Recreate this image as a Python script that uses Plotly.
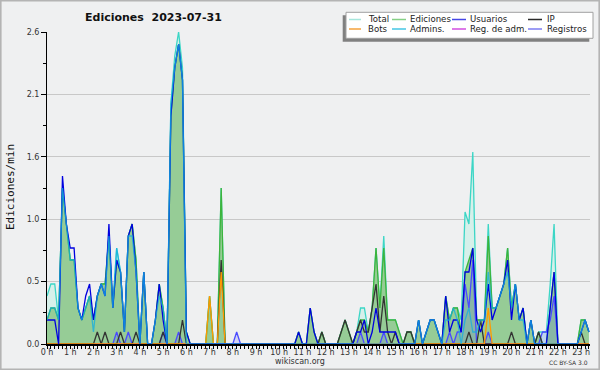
import plotly.graph_objects as go

# ---------------- data (10-minute bins, edits per minute) ----------------
minutes = list(range(0, 1410, 10))  # 00:00 .. 23:20

total = [
    0.4, 0.5, 0.5, 0.2, 1.3, 1.0,   # 0h
    0.7, 0.7, 0.3, 0.2, 0.3, 0.4,   # 1h
    0.2, 0.4, 0.5, 0.5, 0.9, 0.3,   # 2h
    0.8, 0.6, 0.1, 0.9, 1.0, 0.7,   # 3h
    0.0, 0.6, 0.0, 0.0, 0.2, 0.5,   # 4h
    0.3, 0.0, 2.0, 2.4, 2.6, 2.3,   # 5h
    0.1, 0.0, 0.0, 0.0, 0.0, 0.0,   # 6h
    0.4, 0.0, 0.0, 1.3, 0.0, 0.0,   # 7h
    0.0, 0.0, 0.0, 0.0, 0.0, 0.0,   # 8h
    0.0, 0.0, 0.0, 0.0, 0.0, 0.0,   # 9h
    0.0, 0.0, 0.0, 0.0, 0.0, 0.1,   # 10h
    0.0, 0.0, 0.3, 0.1, 0.0, 0.1,   # 11h
    0.0, 0.0, 0.0, 0.0, 0.1, 0.2,   # 12h
    0.1, 0.0, 0.1, 0.3, 0.3, 0.1,   # 13h
    0.3, 0.8, 0.3, 0.9, 0.2, 0.2,   # 14h
    0.2, 0.1, 0.0, 0.1, 0.1, 0.0,   # 15h
    0.2, 0.0, 0.1, 0.2, 0.2, 0.1,   # 16h
    0.0, 0.4, 0.2, 0.3, 0.3, 0.2,   # 17h
    1.1, 1.0, 1.6, 0.2, 0.2, 0.2,   # 18h
    1.0, 0.3, 0.3, 0.4, 0.5, 0.8,   # 19h
    0.3, 0.5, 0.2, 0.3, 0.0, 0.2,   # 20h
    0.0, 0.1, 0.1, 0.1, 0.5, 1.0,   # 21h
    0.0, 0.0, 0.0, 0.0, 0.0, 0.0,   # 22h
    0.2, 0.2, 0.1,                  # 23h
]

ediciones = [
    0.2, 0.3, 0.3, 0.2, 1.3, 1.0,
    0.7, 0.7, 0.3, 0.2, 0.3, 0.4,
    0.2, 0.4, 0.5, 0.5, 0.9, 0.3,
    0.7, 0.6, 0.1, 0.9, 1.0, 0.7,
    0.0, 0.6, 0.0, 0.0, 0.2, 0.5,
    0.3, 0.0, 1.9, 2.3, 2.5, 2.2,
    0.1, 0.0, 0.0, 0.0, 0.0, 0.0,
    0.4, 0.0, 0.0, 1.3, 0.0, 0.0,
    0.0, 0.0, 0.0, 0.0, 0.0, 0.0,
    0.0, 0.0, 0.0, 0.0, 0.0, 0.0,
    0.0, 0.0, 0.0, 0.0, 0.0, 0.1,
    0.0, 0.0, 0.3, 0.1, 0.0, 0.1,
    0.0, 0.0, 0.0, 0.0, 0.1, 0.2,
    0.1, 0.0, 0.1, 0.2, 0.2, 0.1,
    0.3, 0.8, 0.3, 0.8, 0.2, 0.2,
    0.2, 0.1, 0.0, 0.1, 0.1, 0.0,
    0.2, 0.0, 0.1, 0.2, 0.2, 0.1,
    0.0, 0.4, 0.2, 0.3, 0.3, 0.1,
    0.6, 0.7, 0.8, 0.2, 0.2, 0.2,
    0.9, 0.3, 0.3, 0.4, 0.5, 0.8,
    0.3, 0.5, 0.2, 0.3, 0.0, 0.2,
    0.0, 0.1, 0.0, 0.0, 0.3, 0.6,
    0.0, 0.0, 0.0, 0.0, 0.0, 0.0,
    0.2, 0.2, 0.1,
]

usuarios = [
    0.2, 0.2, 0.2, 0.0, 1.4, 1.0,
    0.8, 0.8, 0.3, 0.2, 0.4, 0.5,
    0.2, 0.4, 0.5, 0.4, 1.0, 0.3,
    0.7, 0.6, 0.1, 0.9, 1.0, 0.6,
    0.0, 0.6, 0.0, 0.0, 0.2, 0.5,
    0.2, 0.0, 1.9, 2.3, 2.5, 2.2,
    0.1, 0.0, 0.0, 0.0, 0.0, 0.0,
    0.0, 0.0, 0.0, 0.0, 0.0, 0.0,
    0.0, 0.0, 0.0, 0.0, 0.0, 0.0,
    0.0, 0.0, 0.0, 0.0, 0.0, 0.0,
    0.0, 0.0, 0.0, 0.0, 0.0, 0.1,
    0.0, 0.0, 0.3, 0.1, 0.0, 0.0,
    0.0, 0.0, 0.0, 0.0, 0.0, 0.0,
    0.0, 0.0, 0.1, 0.1, 0.2, 0.0,
    0.1, 0.3, 0.1, 0.1, 0.1, 0.1,
    0.1, 0.0, 0.0, 0.0, 0.0, 0.0,
    0.2, 0.0, 0.1, 0.2, 0.2, 0.1,
    0.0, 0.4, 0.1, 0.2, 0.2, 0.1,
    0.6, 0.6, 0.8, 0.2, 0.1, 0.2,
    0.5, 0.2, 0.3, 0.4, 0.5, 0.7,
    0.2, 0.5, 0.2, 0.3, 0.0, 0.2,
    0.0, 0.0, 0.0, 0.0, 0.3, 0.6,
    0.0, 0.0, 0.0, 0.0, 0.0, 0.0,
    0.1, 0.2, 0.1,
]

ip = [
    0.0, 0.0, 0.0, 0.0, 0.0, 0.0,
    0.0, 0.0, 0.0, 0.0, 0.0, 0.0,
    0.0, 0.1, 0.0, 0.1, 0.0, 0.0,
    0.0, 0.1, 0.0, 0.0, 0.0, 0.1,
    0.0, 0.0, 0.0, 0.0, 0.0, 0.0,
    0.1, 0.0, 0.0, 0.0, 0.0, 0.2,
    0.0, 0.0, 0.0, 0.0, 0.0, 0.0,
    0.0, 0.0, 0.0, 0.7, 0.0, 0.0,
    0.0, 0.0, 0.0, 0.0, 0.0, 0.0,
    0.0, 0.0, 0.0, 0.0, 0.0, 0.0,
    0.0, 0.0, 0.0, 0.0, 0.0, 0.0,
    0.0, 0.0, 0.0, 0.0, 0.0, 0.1,
    0.0, 0.0, 0.0, 0.0, 0.1, 0.2,
    0.1, 0.0, 0.1, 0.2, 0.1, 0.1,
    0.3, 0.5, 0.1, 0.4, 0.1, 0.0,
    0.1, 0.0, 0.0, 0.1, 0.1, 0.0,
    0.0, 0.0, 0.0, 0.0, 0.0, 0.0,
    0.0, 0.0, 0.0, 0.0, 0.0, 0.0,
    0.0, 0.1, 0.0, 0.0, 0.2, 0.0,
    0.0, 0.0, 0.0, 0.0, 0.0, 0.0,
    0.1, 0.0, 0.0, 0.0, 0.0, 0.0,
    0.0, 0.1, 0.0, 0.0, 0.0, 0.0,
    0.0, 0.0, 0.0, 0.0, 0.0, 0.0,
    0.1, 0.0, 0.0,
]

bots = [
    0.0, 0.0, 0.0, 0.0, 0.0, 0.0,
    0.0, 0.0, 0.0, 0.0, 0.0, 0.0,
    0.0, 0.0, 0.0, 0.0, 0.0, 0.0,
    0.0, 0.0, 0.0, 0.0, 0.0, 0.0,
    0.0, 0.0, 0.0, 0.0, 0.0, 0.0,
    0.0, 0.0, 0.0, 0.0, 0.0, 0.0,
    0.0, 0.0, 0.0, 0.0, 0.0, 0.0,
    0.4, 0.0, 0.0, 0.6, 0.0, 0.0,
    0.0, 0.0, 0.0, 0.0, 0.0, 0.0,
    0.0, 0.0, 0.0, 0.0, 0.0, 0.0,
    0.0, 0.0, 0.0, 0.0, 0.0, 0.0,
    0.0, 0.0, 0.0, 0.0, 0.0, 0.0,
    0.0, 0.0, 0.0, 0.0, 0.0, 0.0,
    0.0, 0.0, 0.0, 0.0, 0.0, 0.0,
    0.0, 0.0, 0.0, 0.0, 0.0, 0.0,
    0.0, 0.0, 0.0, 0.0, 0.0, 0.0,
    0.0, 0.0, 0.0, 0.0, 0.0, 0.0,
    0.0, 0.0, 0.0, 0.0, 0.0, 0.0,
    0.0, 0.0, 0.0, 0.0, 0.0, 0.0,
    0.3, 0.0, 0.0, 0.0, 0.0, 0.0,
    0.0, 0.0, 0.0, 0.0, 0.0, 0.0,
    0.0, 0.0, 0.0, 0.0, 0.0, 0.0,
    0.0, 0.0, 0.0, 0.0, 0.0, 0.0,
    0.0, 0.0, 0.0,
]

admins = [
    0.2, 0.3, 0.3, 0.2, 1.3, 1.0,
    0.7, 0.7, 0.3, 0.2, 0.3, 0.4,
    0.1, 0.4, 0.5, 0.4, 0.9, 0.3,
    0.8, 0.6, 0.1, 0.9, 0.9, 0.6,
    0.0, 0.6, 0.0, 0.0, 0.2, 0.4,
    0.3, 0.0, 2.0, 2.3, 2.5, 2.2,
    0.0, 0.0, 0.0, 0.0, 0.0, 0.0,
    0.0, 0.0, 0.0, 0.0, 0.0, 0.0,
    0.0, 0.0, 0.0, 0.0, 0.0, 0.0,
    0.0, 0.0, 0.0, 0.0, 0.0, 0.0,
    0.0, 0.0, 0.0, 0.0, 0.0, 0.0,
    0.0, 0.0, 0.0, 0.0, 0.0, 0.0,
    0.0, 0.0, 0.0, 0.0, 0.0, 0.0,
    0.0, 0.0, 0.0, 0.0, 0.0, 0.0,
    0.0, 0.0, 0.0, 0.0, 0.0, 0.0,
    0.0, 0.0, 0.0, 0.0, 0.0, 0.0,
    0.2, 0.0, 0.1, 0.2, 0.2, 0.1,
    0.0, 0.2, 0.2, 0.3, 0.2, 0.0,
    0.2, 0.3, 0.1, 0.1, 0.2, 0.2,
    0.6, 0.3, 0.3, 0.4, 0.5, 0.6,
    0.3, 0.5, 0.2, 0.2, 0.0, 0.2,
    0.0, 0.0, 0.0, 0.0, 0.0, 0.0,
    0.0, 0.0, 0.0, 0.0, 0.0, 0.0,
    0.1, 0.2, 0.1,
]

reg_adm = [0.0] * 141

registros = [
    0.0, 0.0, 0.0, 0.0, 0.0, 0.0,
    0.0, 0.0, 0.0, 0.0, 0.0, 0.0,
    0.0, 0.0, 0.0, 0.0, 0.0, 0.0,
    0.1, 0.0, 0.0, 0.1, 0.0, 0.0,
    0.0, 0.0, 0.0, 0.0, 0.0, 0.0,
    0.1, 0.0, 0.0, 0.0, 0.1, 0.0,
    0.0, 0.0, 0.0, 0.0, 0.0, 0.0,
    0.0, 0.0, 0.0, 0.0, 0.0, 0.0,
    0.0, 0.1, 0.0, 0.0, 0.0, 0.0,
    0.0, 0.0, 0.0, 0.0, 0.0, 0.0,
    0.0, 0.0, 0.0, 0.0, 0.0, 0.0,
    0.0, 0.0, 0.0, 0.0, 0.0, 0.0,
    0.0, 0.0, 0.0, 0.0, 0.0, 0.0,
    0.0, 0.0, 0.0, 0.1, 0.0, 0.0,
    0.0, 0.0, 0.0, 0.1, 0.0, 0.0,
    0.0, 0.0, 0.0, 0.0, 0.0, 0.0,
    0.0, 0.0, 0.0, 0.0, 0.0, 0.0,
    0.0, 0.0, 0.1, 0.0, 0.1, 0.1,
    0.5, 0.3, 0.7, 0.0, 0.0, 0.0,
    0.1, 0.0, 0.0, 0.0, 0.0, 0.0,
    0.0, 0.0, 0.0, 0.0, 0.0, 0.0,
    0.0, 0.0, 0.1, 0.1, 0.2, 0.4,
    0.0, 0.0, 0.0, 0.0, 0.0, 0.0,
    0.0, 0.0, 0.0,
]

hour_ticks = list(range(24))
hour_labels = [f"{h} h" for h in hour_ticks]
y_ticks = [0, 0.52, 1.04, 1.56, 2.08, 2.6]
y_labels = ["0.0", "0.5", "1.0", "1.6", "2.1", "2.6"]

legend_items = [
    ("Total", "#a6e6dc"), ("Ediciones", "#86d086"), ("Usuarios", "#4646e6"), ("IP", "#2a2a2a"),
    ("Bots", "#f4a23c"), ("Admins.", "#44c6e4"), ("Reg. de adm.", "#d24ee0"), ("Registros", "#7c7cf2"),
]

# ---------------- figure ----------------
x = [m / 60 for m in minutes]
W, H = 600, 370
PL, PR, PT, PB = 47, 590, 32, 344


def px(v):
    return (v - PL) / (PR - PL)


def py(v):
    return (PB - v) / (PB - PT)


fig = go.Figure()


def add(y, color, width=1.3, fill=None, fillcolor=None, opacity=1.0):
    fig.add_trace(go.Scatter(
        x=x, y=y, mode="lines", line=dict(color=color, width=width),
        fill=fill, fillcolor=fillcolor, opacity=opacity,
        hoverinfo="skip", showlegend=False))


add(total, "#3cd6c6", fill="tozeroy", fillcolor="#d6f0ea")
add(ediciones, "#3cb43c", fill="tozeroy", fillcolor="#96cc96")
add(registros, "#4a4aff", fill="tozeroy", fillcolor="rgba(70,70,255,0.16)")
add(reg_adm, "#d040d0")
add(ip, "#333333")
add(bots, "#ff9900")
add(usuarios, "#0000e0")
add(admins, "#12aee2", opacity=0.75)

fig.update_layout(
    width=W, height=H,
    margin=dict(l=PL, r=W - PR, t=PT, b=H - PB),
    paper_bgcolor="#eff0f1", plot_bgcolor="#eff0f1",
    showlegend=False,
    xaxis=dict(
        range=[0, 23.38], tickmode="array", tickvals=hour_ticks, ticktext=hour_labels,
        ticks="outside", ticklen=3, tickcolor="black", showline=True, linecolor="black",
        linewidth=1.5, showgrid=False, zeroline=False, ticklabelstandoff=-3,
        tickfont=dict(family="DejaVu Sans", size=8, color="#333333"),
        minor=dict(tickmode="linear", tick0=0, dtick=1 / 6, ticks="outside", ticklen=3,
                   tickcolor="black", showgrid=False),
        fixedrange=True,
    ),
    yaxis=dict(
        range=[0, 2.6], tickmode="array", tickvals=y_ticks, ticktext=y_labels,
        ticks="outside", ticklen=5, tickcolor="black", showline=True, linecolor="black",
        linewidth=1, showgrid=True, gridcolor="#c8c8c8", gridwidth=1, zeroline=False,
        tickfont=dict(family="DejaVu Sans", size=8, color="#333333"),
        minor=dict(tickmode="linear", tick0=0, dtick=0.26, ticks="outside", ticklen=3,
                   tickcolor="black", showgrid=False),
        fixedrange=True,
    ),
)

ann = []
ann.append(dict(x=px(153.5), y=py(18), xref="paper", yref="paper", showarrow=False,
                text="<b>Ediciones\u00a0 2023-07-31</b>", xanchor="center", yanchor="middle",
                font=dict(family="DejaVu Sans", size=11, color="#111111")))
ann.append(dict(x=px(10), y=py(187), xref="paper", yref="paper", showarrow=False,
                text="Ediciones/min", textangle=-90, xanchor="center", yanchor="middle",
                font=dict(family="DejaVu Sans Mono", size=11, color="#111111")))
ann.append(dict(x=px(300), y=py(361), xref="paper", yref="paper", showarrow=False,
                text="wikiscan.org", xanchor="center", yanchor="middle",
                font=dict(family="DejaVu Sans", size=8, color="#333333")))
ann.append(dict(x=px(590), y=py(362), xref="paper", yref="paper", showarrow=False,
                text="CC BY-SA 3.0", xanchor="right", yanchor="middle",
                font=dict(family="DejaVu Sans", size=6, color="#333333")))

shapes = []
# outer border
shapes.append(dict(type="rect", xref="paper", yref="paper",
                   x0=px(0.8), x1=px(599.2), y0=py(0.8), y1=py(369.2),
                   line=dict(color="#b4b4b4", width=1.6), fillcolor="rgba(0,0,0,0)", layer="above"))
# legend shadow and box
shapes.append(dict(type="rect", xref="paper", yref="paper",
                   x0=px(342.7), x1=px(589.3), y0=py(15.3), y1=py(41.7),
                   line=dict(width=0), fillcolor="#808080", layer="above"))
shapes.append(dict(type="rect", xref="paper", yref="paper",
                   x0=px(346), x1=px(593), y0=py(12.3), y1=py(38.3),
                   line=dict(color="#a0a0a0", width=1), fillcolor="#ffffff", layer="above"))

col_line = [(349, 361), (392, 406), (452, 466), (528, 542)]
col_text = [366, 408, 468, 545]
rows_y = [19.5, 29]
for i, (name, color) in enumerate(legend_items):
    r, c = divmod(i, 4)
    yy = rows_y[r]
    shapes.append(dict(type="line", xref="paper", yref="paper",
                       x0=px(col_line[c][0]), x1=px(col_line[c][1]), y0=py(yy), y1=py(yy),
                       line=dict(color=color, width=1.5), layer="above"))
    ann.append(dict(x=px(col_text[c]), y=py(yy), xref="paper", yref="paper", showarrow=False,
                    text=name, xanchor="left", yanchor="middle",
                    font=dict(family="DejaVu Sans", size=8.6, color="#222222")))

fig.update_layout(annotations=ann, shapes=shapes)
fig.write_html("out.html", config={"displayModeBar": False},
               post_script="document.body.style.margin='0';document.body.style.overflow='hidden';")
